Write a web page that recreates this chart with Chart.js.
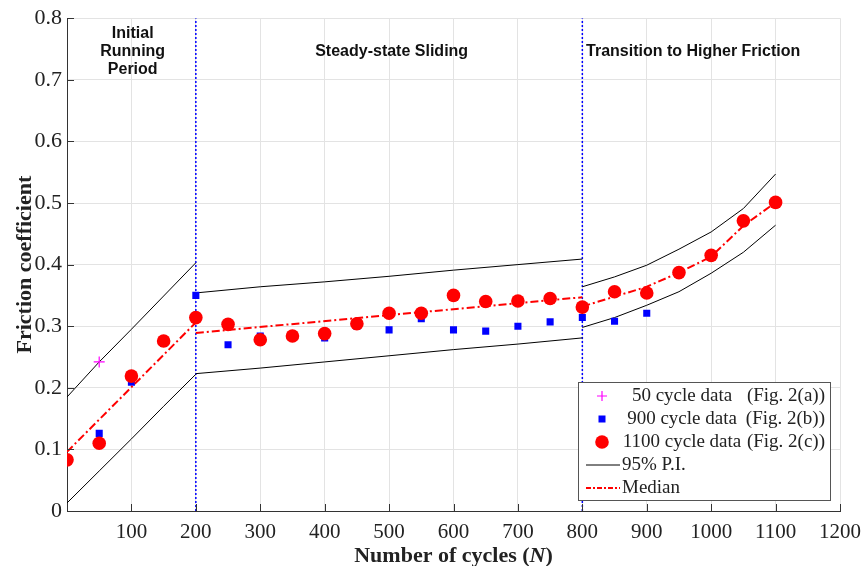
<!DOCTYPE html>
<html>
<head>
<meta charset="utf-8">
<script src="https://cdn.jsdelivr.net/npm/chart.js@4.4.1/dist/chart.umd.min.js"></script>
<style>
  html, body { margin: 0; padding: 0; background: #fff; }
  #wrap { width: 863px; height: 566px; position: relative; }
</style>
</head>
<body>
<div id="wrap"><canvas id="chart" width="863" height="566"></canvas></div>
<script>
const cycles1100 = [0, 50, 100, 150, 200, 250, 300, 350, 400, 450, 500, 550, 600, 650, 700, 750, 800, 850, 900, 950, 1000, 1050, 1100];
const friction1100 = [0.083, 0.110, 0.219, 0.276, 0.314, 0.303, 0.278, 0.284, 0.288, 0.304, 0.321, 0.321, 0.350, 0.340, 0.341, 0.345, 0.331, 0.356, 0.354, 0.387, 0.415, 0.471, 0.501];

const cycles900 = [50, 100, 150, 200, 250, 300, 350, 400, 450, 500, 550, 600, 650, 700, 750, 800, 850, 900];
const friction900 = [0.126, 0.209, 0.272, 0.350, 0.270, 0.284, 0.282, 0.281, 0.300, 0.294, 0.312, 0.294, 0.292, 0.300, 0.307, 0.314, 0.308, 0.321];

const cycles50 = [50];
const friction50 = [0.242];

// fitted median, three regimes
const medianX1 = [0, 200];
const median1 = [0.096, 0.306];
const medianX2 = [200, 800];
const median2 = [0.289, 0.347];
const medianX3 = [800, 850, 900, 950, 1000, 1050, 1100];
const median3 = [0.332, 0.348, 0.364, 0.387, 0.413, 0.463, 0.501];

// 95% prediction interval
const piX1 = [0, 50, 100, 150, 200];
const piUpper1 = [0.185, 0.242, 0.295, 0.349, 0.403];
const piLower1 = [0.013, 0.065, 0.117, 0.170, 0.222];
const piX2 = [200, 300, 400, 500, 600, 700, 800];
const piUpper2 = [0.354, 0.364, 0.372, 0.381, 0.391, 0.400, 0.409];
const piLower2 = [0.223, 0.232, 0.242, 0.252, 0.262, 0.271, 0.281];
const piX3 = [800, 850, 900, 950, 1000, 1050, 1100];
const piUpper3 = [0.364, 0.380, 0.399, 0.425, 0.453, 0.491, 0.547];
const piLower3 = [0.298, 0.314, 0.334, 0.356, 0.386, 0.420, 0.464];

const regionBounds = [200, 800];
const regionLabels = [["Initial", "Running", "Period"], ["Steady-state Sliding"], ["Transition to Higher Friction"]];
const regionCenters = [102, 504, 972];

const xTicks = [100, 200, 300, 400, 500, 600, 700, 800, 900, 1000, 1100, 1200];
const yTicks = [0, 0.1, 0.2, 0.3, 0.4, 0.5, 0.6, 0.7, 0.8];

const SERIF = "'Liberation Serif', 'Times New Roman', serif";
const SANS = "'Liberation Sans', Arial, sans-serif";

const pts = (xs, ys) => xs.map((x, i) => ({ x, y: ys[i] }));
const line = (xs, ys, color, width, dash, order) => ({
  data: pts(xs, ys), showLine: true, borderColor: color, borderWidth: width,
  borderDash: dash || [], pointRadius: 0, fill: false, order
});

const datasets = [];
regionBounds.forEach(b => datasets.push(line([b, b], [0, 0.8], "#0000ff", 1.5, [2, 2], 10)));
[[piX1, piUpper1], [piX1, piLower1], [piX2, piUpper2], [piX2, piLower2], [piX3, piUpper3], [piX3, piLower3]]
  .forEach(([xs, ys]) => datasets.push(line(xs, ys, "#000000", 1, null, 8)));
datasets.push({ data: pts(cycles900, friction900), pointStyle: "rect", pointRadius: 5, backgroundColor: "#0000ff", borderColor: "#0000ff", borderWidth: 0, order: 6 });
datasets.push({ data: pts(cycles1100, friction1100), pointStyle: "circle", pointRadius: 6.8, backgroundColor: "#ff0000", borderColor: "#ff0000", borderWidth: 0, order: 5 });
[[medianX1, median1], [medianX2, median2], [medianX3, median3]]
  .forEach(([xs, ys]) => datasets.push(line(xs, ys, "#ff0000", 2, [8, 3, 2, 3], 4)));
datasets.push({ data: pts(cycles50, friction50), pointStyle: "cross", pointRadius: 5.5, borderColor: "#ff00ff", borderWidth: 1.2, order: 3 });

// labels, axis titles, inward ticks and the boxed legend
const decor = {
  id: "decor",
  afterDraw(chart) {
    const { ctx, chartArea: a, scales: { x, y } } = chart;
    ctx.save();

    // inward tick marks
    ctx.strokeStyle = "#333";
    ctx.lineWidth = 1;
    ctx.beginPath();
    yTicks.forEach(v => { const py = Math.round(y.getPixelForValue(v)) + 0.5; ctx.moveTo(a.left, py); ctx.lineTo(a.left + 7, py); });
    xTicks.forEach(v => { const px = Math.round(x.getPixelForValue(v)) + 0.5; ctx.moveTo(px, a.bottom); ctx.lineTo(px, a.bottom - 7); });
    ctx.stroke();

    // region captions
    ctx.fillStyle = "#111";
    ctx.font = "bold 16px " + SANS;
    ctx.textAlign = "center";
    ctx.textBaseline = "middle";
    regionLabels.forEach((lines, i) => {
      const cx = x.getPixelForValue(regionCenters[i]);
      const top = lines.length > 1 ? a.top + 15 : a.top + 33;
      lines.forEach((t, j) => ctx.fillText(t, cx, top + j * 18));
    });

    // x title with italic N
    ctx.fillStyle = "#222";
    ctx.textBaseline = "middle";
    const p1 = "Number of cycles (", p2 = "N", p3 = ")";
    const fB = "bold 22px " + SERIF, fI = "bold italic 22px " + SERIF;
    ctx.font = fB; const w1 = ctx.measureText(p1).width, w3 = ctx.measureText(p3).width;
    ctx.font = fI; const w2 = ctx.measureText(p2).width;
    let sx = (a.left + a.right) / 2 - (w1 + w2 + w3) / 2;
    const ty = 556;
    ctx.textAlign = "left";
    ctx.font = fB; ctx.fillText(p1, sx, ty); sx += w1;
    ctx.font = fI; ctx.fillText(p2, sx, ty); sx += w2;
    ctx.font = fB; ctx.fillText(p3, sx, ty);

    // y title
    ctx.save();
    ctx.translate(25, (a.top + a.bottom) / 2);
    ctx.rotate(-Math.PI / 2);
    ctx.textAlign = "center";
    ctx.font = "bold 22px " + SERIF;
    ctx.fillText("Friction coefficient", 0, 0);
    ctx.restore();

    // legend box
    const bw = 252, bh = 118;
    const bx = a.right - 10 - bw, by = a.bottom - 11 - bh;
    ctx.fillStyle = "#fff";
    ctx.fillRect(bx, by, bw, bh);
    ctx.strokeStyle = "#555";
    ctx.lineWidth = 1;
    ctx.strokeRect(Math.round(bx) + 0.5, Math.round(by) + 0.5, bw, bh);

    const rows = [
      { kind: "plus", label: "50 cycle data", fig: "(Fig. 2(a))" },
      { kind: "square", label: "900 cycle data", fig: "(Fig. 2(b))" },
      { kind: "circle", label: "1100 cycle data", fig: "(Fig. 2(c))" },
      { kind: "solid", label: "95% P.I." },
      { kind: "dashdot", label: "Median" }
    ];
    ctx.font = "19px " + SERIF;
    ctx.textBaseline = "middle";
    rows.forEach((r, i) => {
      const ry = by + 14 + i * 23;
      const mx = bx + 24;
      if (r.kind === "plus") {
        ctx.strokeStyle = "#ff00ff"; ctx.lineWidth = 1.2;
        ctx.beginPath(); ctx.moveTo(mx - 5, ry); ctx.lineTo(mx + 5, ry); ctx.moveTo(mx, ry - 5); ctx.lineTo(mx, ry + 5); ctx.stroke();
      } else if (r.kind === "square") {
        ctx.fillStyle = "#0000ff"; ctx.fillRect(mx - 3.5, ry - 3.5, 7, 7);
      } else if (r.kind === "circle") {
        ctx.fillStyle = "#ff0000"; ctx.beginPath(); ctx.arc(mx, ry, 6.8, 0, Math.PI * 2); ctx.fill();
      } else {
        ctx.strokeStyle = r.kind === "solid" ? "#000" : "#ff0000";
        ctx.lineWidth = r.kind === "solid" ? 1 : 2;
        ctx.setLineDash(r.kind === "solid" ? [] : [5, 2, 2, 2]);
        ctx.beginPath(); ctx.moveTo(bx + 8, ry); ctx.lineTo(bx + 42, ry); ctx.stroke();
        ctx.setLineDash([]);
      }
      ctx.fillStyle = "#222";
      if (r.fig) {
        ctx.textAlign = "center"; ctx.fillText(r.label, bx + 104, ry);
        ctx.textAlign = "right"; ctx.fillText(r.fig, bx + bw - 5, ry);
      } else {
        ctx.textAlign = "left"; ctx.fillText(r.label, bx + 44, ry);
      }
    });
    ctx.restore();
  }
};

new Chart(document.getElementById("chart"), {
  type: "scatter",
  data: { datasets },
  options: {
    responsive: false,
    animation: false,
    layout: { padding: { top: 18, right: 0, left: 0, bottom: 0 } },
    plugins: { legend: { display: false }, tooltip: { enabled: false } },
    scales: {
      x: {
        type: "linear", min: 0, max: 1200,
        afterBuildTicks: s => { s.ticks = [0].concat(xTicks).map(v => ({ value: v })); },
        afterFit: s => { s.height = 55; s.paddingLeft = 0; s.paddingRight = 23; },
        grid: { color: "#e3e3e3", drawTicks: false },
        border: { color: "#333", width: 1 },
        ticks: { padding: 9, color: "#222", font: { family: SERIF, size: 21 }, callback: v => v === 0 ? "" : v, maxRotation: 0, autoSkip: false }
      },
      y: {
        type: "linear", min: 0, max: 0.8,
        afterBuildTicks: s => { s.ticks = yTicks.map(v => ({ value: v })); },
        afterFit: s => { s.width = 67; },
        grid: { color: "#e3e3e3", drawTicks: false },
        border: { color: "#333", width: 1 },
        ticks: { padding: 5, color: "#222", font: { family: SERIF, size: 22 }, callback: v => v === 0 ? "0" : v.toFixed(1) }
      }
    }
  },
  plugins: [decor]
});
</script>
</body>
</html>
